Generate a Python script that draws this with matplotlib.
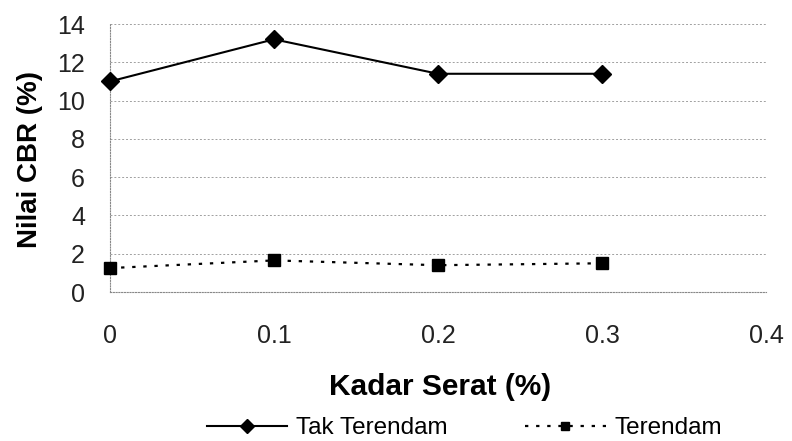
import matplotlib.pyplot as plt

kadar_serat = [0, 0.1, 0.2, 0.3]
tak_terendam = [11.0, 13.2, 11.4, 11.4]
terendam = [1.25, 1.65, 1.4, 1.5]
xticks = [0, 0.1, 0.2, 0.3, 0.4]
xticklabels = ['0', '0.1', '0.2', '0.3', '0.4']
yticks = [0, 2, 4, 6, 8, 10, 12, 14]

plt.rcParams['font.family'] = ['Liberation Sans', 'DejaVu Sans']

fig = plt.figure(figsize=(7.92, 4.41), dpi=100)
ax = fig.add_axes([110 / 792, 1 - 292 / 441, 656 / 792, 268 / 441])

ax.plot(kadar_serat, tak_terendam, color='black', lw=1.5, marker='D',
        markersize=9, label='Tak Terendam', clip_on=False, zorder=3)
ax.plot(kadar_serat, terendam, color='black', lw=1.6, ls=(0, (1.5, 3.5)),
        marker='s', markersize=8.5, label='Terendam', clip_on=False, zorder=3)

ax.set_xlim(0, 0.4)
ax.set_ylim(0, 14)
ax.set_xticks(xticks)
ax.set_xticklabels(xticklabels)
ax.set_yticks(yticks)
ax.tick_params(length=0, labelsize=18, labelcolor='#222222')
ax.tick_params(axis='x', pad=23)
ax.tick_params(axis='y', pad=18)

ax.grid(axis='y', color='#a0a0a0', ls=(0, (2, 2)), lw=0.7)
for s in ax.spines.values():
    s.set_color('#888888')
    s.set_linestyle((0, (1, 1.5)))
    s.set_linewidth(0.8)
ax.spines['top'].set_visible(False)
ax.spines['right'].set_visible(False)

fig.text(30 / 792, 1 - 159 / 441, 'Nilai CBR (%)', rotation=90, ha='center',
         va='center', fontsize=20, fontweight='bold')
fig.text(440 / 792, 1 - 395 / 441, 'Kadar Serat (%)', ha='center',
         va='baseline', fontsize=21.5, fontweight='bold')

fig.legend(loc='center left', bbox_to_anchor=(197 / 792, 1 - 428 / 441),
           ncol=2, frameon=False, fontsize=17.5, handlelength=3.3,
           handletextpad=0.37, columnspacing=3.2, markerscale=0.75,
           borderaxespad=0)

fig.savefig('out.png', dpi=100)
